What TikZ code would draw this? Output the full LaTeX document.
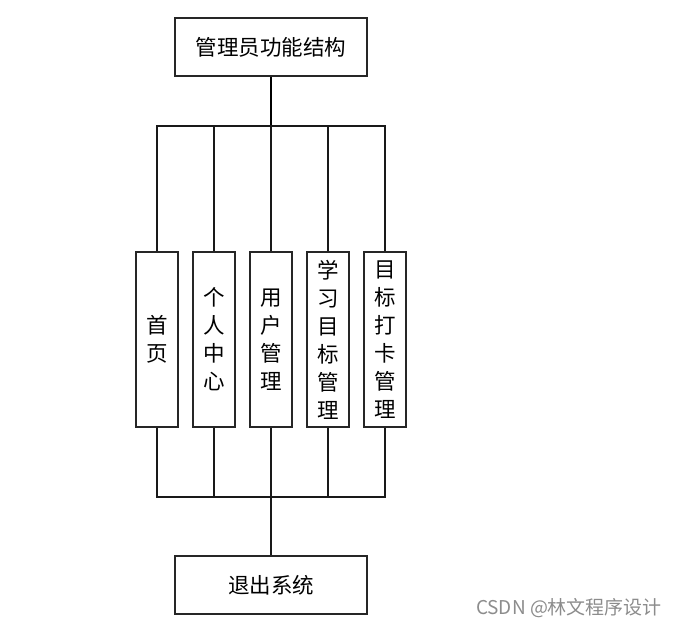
\documentclass[tikz,border=0pt]{standalone}
\usepackage{fontspec}
\setmainfont{Noto Sans CJK SC}
\begin{document}
\begin{tikzpicture}[x=1pt,y=-1pt,
  box/.style={draw=black!85,line width=1.4pt,fill=white,inner sep=0pt,font=\fontsize{21.5}{28}\selectfont},
  vbox/.style={box,minimum width=42pt,minimum height=175pt,align=center},
  wide/.style={box,minimum width=192pt,minimum height=58pt},
  conn/.style={draw=black!90,line width=1.3pt},
  trunk/.style={draw=black,line width=2.4pt}]
\useasboundingbox (0,0) rectangle (680,628);
\node[wide] (top) at (271,47) {管理员功能结构};
\node[wide] (bot) at (271,585) {退出系统};
\node[vbox] (b1) at (157,339.5) {首\\页};
\node[vbox] (b2) at (214,339.5) {个\\人\\中\\心};
\node[vbox] (b3) at (271,339.5) {用\\户\\管\\理};
\node[vbox] (b4) at (328,339.5) {学\\习\\目\\标\\管\\理};
\node[vbox] (b5) at (385,339.5) {目\\标\\打\\卡\\管\\理};
\coordinate (tbus) at (271,126);
\coordinate (bbus) at (271,497);
\draw[trunk] (top.south) -- (tbus);
\draw[conn] (b1.north) |- (tbus) -| (b5.north);
\draw[conn] (b2.north) -- (b2.north |- tbus);
\draw[conn] (b3.north) -- (tbus);
\draw[conn] (b4.north) -- (b4.north |- tbus);
\draw[conn] (b1.south) |- (bbus) -| (b5.south);
\draw[conn] (b2.south) -- (b2.south |- bbus);
\draw[conn] (b3.south) -- (bbus);
\draw[conn] (b4.south) -- (b4.south |- bbus);
\draw[conn] (bbus) -- (bot.north);
\node[text=black!45,font=\fontsize{19}{20}\selectfont,inner sep=0pt] (wm) at (569,608) {CSDN @林文程序设计};
\end{tikzpicture}
\end{document}
